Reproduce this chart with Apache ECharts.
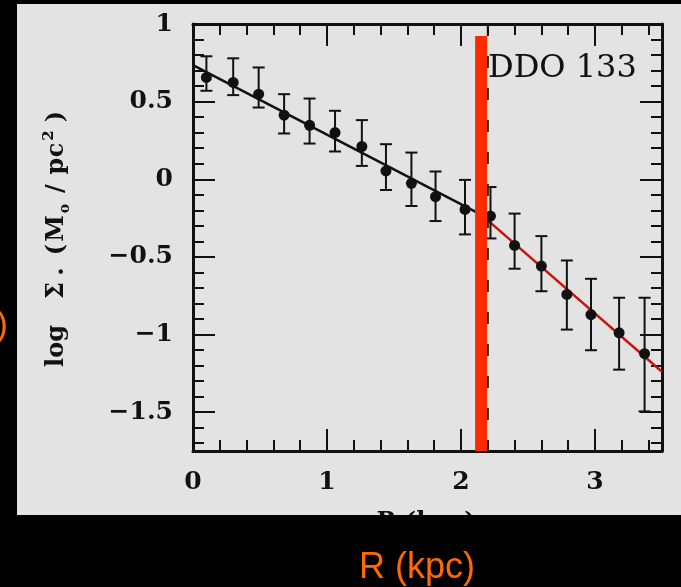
<!DOCTYPE html>
<html>
<head>
<meta charset="utf-8">
<script src="https://cdn.jsdelivr.net/npm/echarts@6/dist/echarts.min.js"></script>
<style>
  html, body { margin: 0; padding: 0; background: #000; }
  #chart { width: 681px; height: 587px; }
</style>
</head>
<body>
<div id="chart"></div>
<script>
// Stellar surface-density profile of DDO 133
const radius = [0.10, 0.30, 0.49, 0.68, 0.87, 1.06, 1.26, 1.44, 1.63, 1.81, 2.03, 2.22, 2.40, 2.60, 2.79, 2.97, 3.18, 3.37];
const logSigma = [0.656, 0.624, 0.548, 0.413, 0.348, 0.301, 0.211, 0.054, -0.026, -0.112, -0.194, -0.237, -0.426, -0.559, -0.742, -0.871, -0.989, -1.123];
const sigmaUpper = [0.792, 0.779, 0.720, 0.548, 0.520, 0.441, 0.381, 0.226, 0.172, 0.050, -0.004, -0.050, -0.221, -0.366, -0.523, -0.641, -0.763, -0.763];
const sigmaLower = [0.570, 0.542, 0.462, 0.295, 0.230, 0.179, 0.086, -0.069, -0.172, -0.269, -0.355, -0.381, -0.576, -0.721, -0.968, -1.101, -1.226, -1.495];

// Exponential fits inside and outside the break
const innerFit = [[0, 0.735], [2.2, -0.25]];
const outerFit = [[2.2, -0.265], [3.5, -1.24]];

// Break radius (dashed) and highlight bar
const breakLine = [[2.2, 1.0], [2.2, -1.75]];
const highlightBar = [[2.15, 0.923], [2.15, -1.75]];

// Axis ranges and ticks
const xRange = [0, 3.5];
const yRange = [-1.75, 1];
const xTicks = [0, 1, 2, 3];
const xMinorTicks = [0.2, 0.4, 0.6, 0.8, 1.2, 1.4, 1.6, 1.8, 2.2, 2.4, 2.6, 2.8, 3.2, 3.4];
const yTicks = [-1.5, -1, -0.5, 0, 0.5, 1];
const yMinorTicks = [-1.7, -1.6, -1.4, -1.3, -1.2, -1.1, -0.9, -0.8, -0.7, -0.6, -0.4, -0.3, -0.2, -0.1, 0.1, 0.2, 0.3, 0.4, 0.6, 0.7, 0.8, 0.9];

const galaxyName = 'DDO 133';
const xTitle = 'R (kpc)';

const INK = '#111';
const SERIF = '"DejaVu Serif", "Liberation Serif", serif';

function fmt(v) {
  return v < 0 ? '\u2212' + Math.abs(v) : String(v);
}

function makeAxis(dim, position, tickValues, tickLen, withLine, withLabels) {
  const range = dim === 'x' ? xRange : yRange;
  return {
    type: 'value',
    position: position,
    min: range[0],
    max: range[1],
    offset: 0,
    axisLine: { show: withLine, onZero: false, lineStyle: { color: INK, width: 3 } },
    axisTick: { show: true, inside: true, length: tickLen, customValues: tickValues,
                lineStyle: { color: INK, width: 2 } },
    axisLabel: { show: withLabels, customValues: tickValues, formatter: fmt,
                 margin: dim === 'x' ? 19 : 20,
                 fontFamily: SERIF, fontWeight: 'bold', fontSize: 25, color: INK },
    splitLine: { show: false }
  };
}

// Rotated y-axis title built from spaced glyph tokens
const titleParts = [
  // [glyph, style, box width, gap before]
  ['log', 'b', 43, 0],
  ['\u03A3', 'b', 20, 24],
  ['.', 'b', 6, 6],
  ['(', 'b', 12, 13],
  ['M', 'b', 24, 3],
  ['o', 'sub', 10, 3],
  ['/', 'b', 14, 8],
  ['p', 'b', 15, 8],
  ['c', 'b', 13, 2],
  ['2', 'sup', 12, 2],
  [')', 'b', 12, 7]
];
const titleRich = {};
let titleText = '';
titleParts.forEach(function (p, i) {
  const [glyph, kind, w, gap] = p;
  if (gap > 0) {
    const gName = 'g' + i;
    titleRich[gName] = { width: gap, fontSize: 23, fontFamily: SERIF };
    titleText += '{' + gName + '| }';
  }
  const name = 't' + i;
  const base = { width: w, align: 'center', fontFamily: SERIF, fontWeight: 'bold', fill: INK, color: INK };
  if (kind === 'b') Object.assign(base, { fontSize: 24, lineHeight: 30 });
  if (kind === 'sub') Object.assign(base, { fontSize: 14, verticalAlign: 'bottom', lineHeight: 14 });
  if (kind === 'sup') Object.assign(base, { fontSize: 15, verticalAlign: 'top', lineHeight: 15 });
  titleRich[name] = base;
  titleText += '{' + name + '|' + glyph + '}';
});

const chart = echarts.init(document.getElementById('chart'), null, { renderer: 'canvas' });

const option = {
  backgroundColor: '#000',
  animation: false,
  grid: { left: 193, top: 24, width: 469, height: 427, containLabel: false, outerBoundsMode: 'none' },
  xAxis: [
    makeAxis('x', 'bottom', xTicks, 22, true, true),
    makeAxis('x', 'bottom', xMinorTicks, 11, false, false),
    makeAxis('x', 'top', xTicks, 22, true, false),
    makeAxis('x', 'top', xMinorTicks, 11, false, false)
  ],
  yAxis: [
    makeAxis('y', 'left', yTicks, 22, true, true),
    makeAxis('y', 'left', yMinorTicks, 11, false, false),
    makeAxis('y', 'right', yTicks, 22, true, false),
    makeAxis('y', 'right', yMinorTicks, 11, false, false)
  ],
  series: [
    {
      name: 'inner fit', type: 'line', data: innerFit, symbol: 'none', z: 3,
      lineStyle: { color: INK, width: 2.5 }
    },
    {
      name: 'outer fit', type: 'line', data: outerFit, symbol: 'none', z: 3,
      lineStyle: { color: '#c8140a', width: 2.5 }
    },
    {
      name: 'break', type: 'line', data: breakLine, symbol: 'none', z: 3,
      lineStyle: { color: INK, width: 2, type: [12, 20] }
    },
    {
      name: 'error', type: 'custom', z: 4,
      data: radius.map(function (r, i) { return [r, sigmaUpper[i], sigmaLower[i]]; }),
      encode: { x: 0, y: [1, 2] },
      renderItem: function (params, api) {
        const x = api.value(0);
        const top = api.coord([x, api.value(1)]);
        const bot = api.coord([x, api.value(2)]);
        const cap = 6;
        const st = { stroke: INK, lineWidth: 2 };
        return {
          type: 'group',
          children: [
            { type: 'line', shape: { x1: top[0], y1: top[1], x2: bot[0], y2: bot[1] }, style: st },
            { type: 'line', shape: { x1: top[0] - cap, y1: top[1], x2: top[0] + cap, y2: top[1] }, style: st },
            { type: 'line', shape: { x1: bot[0] - cap, y1: bot[1], x2: bot[0] + cap, y2: bot[1] }, style: st }
          ]
        };
      }
    },
    {
      name: 'profile', type: 'scatter', z: 5,
      data: radius.map(function (r, i) { return [r, logSigma[i]]; }),
      symbol: 'circle', symbolSize: 11,
      itemStyle: { color: INK, opacity: 1 }
    },
    {
      name: 'highlight', type: 'line', data: highlightBar, symbol: 'none', z: 10,
      lineStyle: { color: '#ff2a00', width: 12, cap: 'butt' }
    }
  ],
  graphic: [
    // light plot panel
    { type: 'rect', z: -100, shape: { x: 17, y: 4, width: 664, height: 511 }, style: { fill: '#e3e3e3' } },
    // serif x title, mostly covered by the dark band below
    { type: 'text', z: 50, x: 426, y: 511,
      style: { text: xTitle, fontFamily: SERIF, fontWeight: 'bold', fontSize: 24, fill: INK, align: 'center', verticalAlign: 'top' } },
    { type: 'rect', z: 100, shape: { x: 0, y: 515, width: 681, height: 72 }, style: { fill: '#000' } },
    // galaxy label
    { type: 'text', z: 20, x: 488, y: 69,
      style: { text: galaxyName, fontFamily: SERIF, fontSize: 32, fill: INK, align: 'left', verticalAlign: 'middle' } },
    // y-axis title
    { type: 'text', z: 20, x: 57, y: 239, rotation: Math.PI / 2,
      style: { text: titleText, rich: titleRich, align: 'center', verticalAlign: 'middle' } },
    // orange annotations on the dark background
    { type: 'text', z: 110, x: 417, y: 568,
      style: { text: xTitle, fontFamily: '"Liberation Sans", Arial, sans-serif', fontSize: 36, fill: '#ff6a00', align: 'center', verticalAlign: 'middle' } },
    { type: 'text', z: 110, x: 8, y: 326,
      style: { text: ')', fontFamily: '"Liberation Sans", Arial, sans-serif', fontSize: 35, fill: '#ff6a00', align: 'right', verticalAlign: 'middle' } }
  ]
};

chart.setOption(option);
</script>
</body>
</html>
